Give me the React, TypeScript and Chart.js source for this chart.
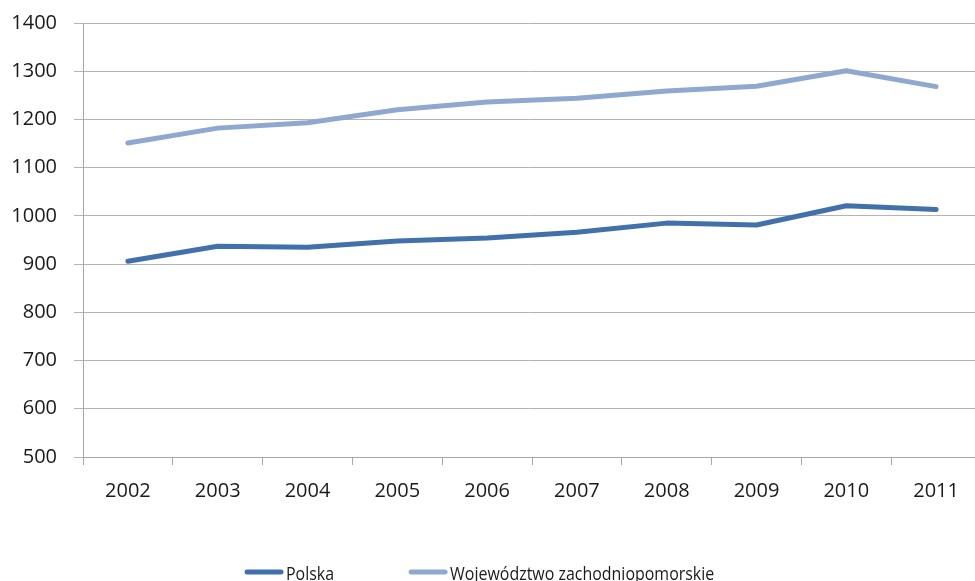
import React, { useEffect, useRef } from "react";
import { Chart, registerables } from "chart.js";

Chart.register(...registerables);

const years = ["2002", "2003", "2004", "2005", "2006", "2007", "2008", "2009", "2010", "2011"];
const polska = [906, 937, 935, 948, 954, 966, 985, 981, 1021, 1013];
const zachodniopomorskie = [1151, 1182, 1193, 1220, 1236, 1244, 1259, 1269, 1301, 1268];
const seriesNames = ["Polska", "Województwo zachodniopomorskie"];
const seriesColors = ["#4170AA", "#8EA8CF"];
const yMin = 500;
const yMax = 1400;
const yStep = 100;

const FONT = '"Open Sans", "Noto Sans", sans-serif';

const extendRight = {
  id: "extendRight",
  afterLayout(chart: any) {
    const x = chart.scales.x;
    const target = 981;
    x.right = target;
    x.width = target - x.left;
    x.configure();
  },
};

const bottomLegend = {
  id: "bottomLegend",
  afterDraw(chart: any) {
    const ctx = chart.ctx;
    const y = 572;
    const sample = 38;
    const gapText = 3;
    const itemGap = 75;
    const sx = 0.84;
    ctx.save();
    ctx.font = `19px ${FONT}`;
    const items = chart.data.datasets.map((d: any) => ({
      label: d.label,
      color: d.borderColor,
      tw: ctx.measureText(d.label).width * sx,
    }));
    let x = 245;
    items.forEach((it: any) => {
      ctx.strokeStyle = it.color;
      ctx.lineWidth = 5;
      ctx.lineCap = "round";
      ctx.beginPath();
      ctx.moveTo(x + 2, y);
      ctx.lineTo(x + sample - 2, y);
      ctx.stroke();
      ctx.fillStyle = "#1a1a1a";
      ctx.textBaseline = "middle";
      ctx.textAlign = "left";
      ctx.save();
      ctx.translate(x + sample + gapText, y + 3);
      ctx.scale(sx, 1);
      ctx.fillText(it.label, 0, 0);
      ctx.restore();
      x += sample + gapText + it.tw + itemGap;
    });
    ctx.restore();
  },
};

export default function App() {
  const ref = useRef<HTMLCanvasElement | null>(null);
  useEffect(() => {
    document.body.style.margin = "0";
    const canvas = ref.current;
    if (!canvas) return;
    const chart = new Chart(canvas, {
      type: "line",
      data: {
        labels: years,
        datasets: [
          {
            label: seriesNames[0],
            data: polska,
            borderColor: seriesColors[0],
            backgroundColor: seriesColors[0],
            borderWidth: 5,
            pointRadius: 0,
            tension: 0,
            borderCapStyle: "round",
            borderJoinStyle: "round",
          },
          {
            label: seriesNames[1],
            data: zachodniopomorskie,
            borderColor: seriesColors[1],
            backgroundColor: seriesColors[1],
            borderWidth: 5,
            pointRadius: 0,
            tension: 0,
            borderCapStyle: "round",
            borderJoinStyle: "round",
          },
        ],
      },
      options: {
        responsive: false,
        animation: false,
        devicePixelRatio: 1,
        layout: { padding: { top: 23, left: 0, right: 0, bottom: 74 } },
        plugins: {
          legend: { display: false },
          tooltip: { enabled: false },
        },
        scales: {
          x: {
            offset: true,
            grid: {
              offset: true,
              drawOnChartArea: false,
              drawTicks: true,
              tickLength: 8,
              color: "#A6A6A6",
              lineWidth: 1,
            },
            border: { display: true, color: "#A6A6A6", width: 1 },
            ticks: {
              padding: 14,
              color: "#1a1a1a",
              font: { family: FONT, size: 20 },
              maxRotation: 0,
            },
            afterFit(scale: any) {
              scale.height = 50;
              scale.paddingLeft = 0;
              scale.paddingRight = 0;
            },
          },
          y: {
            min: yMin,
            max: yMax,
            grid: {
              color: "#B4B4B4",
              lineWidth: 1,
              tickLength: 9,
              drawTicks: true,
            },
            border: { display: true, color: "#A6A6A6", width: 1 },
            ticks: {
              stepSize: yStep,
              padding: 17,
              color: "#1a1a1a",
              font: { family: FONT, size: 20 },
              callback: (v: any) => String(v),
            },
            afterFit(scale: any) {
              scale.width = 83;
              scale.paddingTop = 0;
              scale.paddingBottom = 0;
            },
          },
        },
      },
      plugins: [extendRight, bottomLegend],
    } as any);
    return () => chart.destroy();
  }, []);
  return (
    <div style={{ width: 975, height: 581 }}>
      <canvas ref={ref} width={975} height={581} style={{ display: "block" }} />
    </div>
  );
}
